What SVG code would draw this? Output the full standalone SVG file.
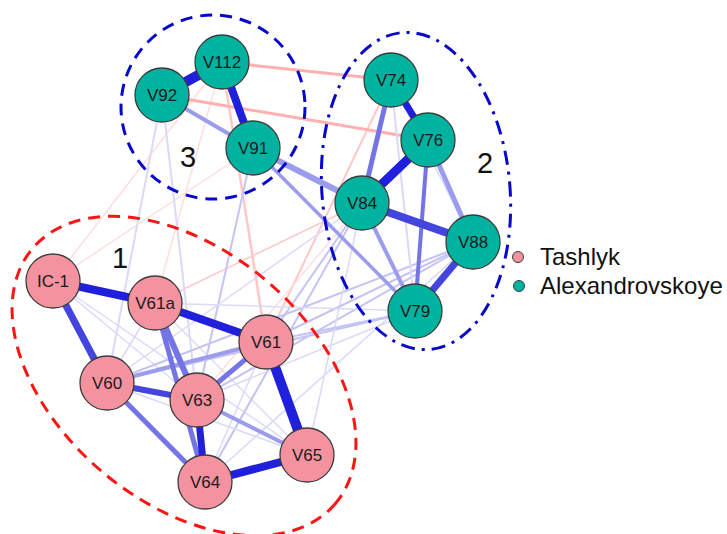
<svg xmlns="http://www.w3.org/2000/svg" width="727" height="534" viewBox="0 0 727 534">
  <style>
    .e { fill: none; stroke-linecap: butt; }
    .b1 { stroke: #2020dc; }
    .b2 { stroke: #4444de; }
    .b3 { stroke: #7474e6; }
    .b4 { stroke: #9c9cec; }
    .b5 { stroke: #c4c4f4; }
    .b6 { stroke: #dadaf8; }
    .r1 { stroke: #ffb0b0; }
    .r2 { stroke: #ffc8c8; }
    .r3 { stroke: #ffdede; }
    .node circle { stroke: #3c3c3c; stroke-width: 1.3; }
    .tash circle { fill: #f4939f; }
    .alex circle { fill: #00b3a0; }
    .node text { font-family: "Liberation Sans", Arial, sans-serif; font-size: 17px; fill: #1a1a1a; text-anchor: middle; }
    .grp { fill: none; stroke-width: 3; }
    .num { font-family: "Liberation Sans", Arial, sans-serif; font-size: 29px; fill: #111; text-anchor: middle; }
    .leg { font-family: "Liberation Sans", Arial, sans-serif; font-size: 24px; fill: #111; }
  </style>

  <!-- connectors: faint first, strong last -->
  <g id="connectors">
    <!-- faint red links -->
    <line class="e r3" stroke-width="1.5" x1="53" y1="281" x2="222" y2="62"/>
    <line class="e r3" stroke-width="1.5" x1="53" y1="281" x2="253" y2="148"/>
    <line class="e r3" stroke-width="1.5" x1="155" y1="303" x2="222" y2="62"/>
    <line class="e r2" stroke-width="1.5" x1="155" y1="303" x2="362" y2="203"/>
    <line class="e r2" stroke-width="2" x1="266" y1="342" x2="391" y2="80"/>
    <line class="e r2" stroke-width="1.5" x1="266" y1="342" x2="473" y2="242"/>
    <line class="e r3" stroke-width="1.5" x1="197" y1="400" x2="362" y2="203"/>
    <line class="e r3" stroke-width="1.5" x1="107" y1="383" x2="415" y2="311"/>
    <line class="e r2" stroke-width="2.5" x1="222" y1="62" x2="266" y2="342"/>
    <line class="e r1" stroke-width="3" x1="222" y1="62" x2="391" y2="80"/>
    <line class="e r1" stroke-width="3" x1="162" y1="95" x2="428" y2="140"/>

    <!-- faint blue links -->
    <line class="e b6" stroke-width="2" x1="162" y1="95" x2="107" y2="383"/>
    <line class="e b6" stroke-width="2" x1="162" y1="95" x2="197" y2="400"/>
    <line class="e b5" stroke-width="2" x1="253" y1="148" x2="197" y2="400"/>
    <line class="e b6" stroke-width="1.5" x1="53" y1="281" x2="197" y2="400"/>
    <line class="e b6" stroke-width="1.5" x1="53" y1="281" x2="307" y2="455"/>
    <line class="e b6" stroke-width="1.5" x1="155" y1="303" x2="307" y2="455"/>
    <line class="e b6" stroke-width="1.5" x1="155" y1="303" x2="107" y2="383"/>
    <line class="e b5" stroke-width="2" x1="107" y1="383" x2="473" y2="242"/>
    <line class="e b5" stroke-width="2" x1="107" y1="383" x2="415" y2="311"/>
    <line class="e b6" stroke-width="1.5" x1="107" y1="383" x2="362" y2="203"/>
    <line class="e b5" stroke-width="2" x1="197" y1="400" x2="473" y2="242"/>
    <line class="e b6" stroke-width="1.5" x1="197" y1="400" x2="415" y2="311"/>
    <line class="e b5" stroke-width="2" x1="205" y1="482" x2="362" y2="203"/>
    <line class="e b6" stroke-width="1.5" x1="205" y1="482" x2="266" y2="342"/>
    <line class="e b6" stroke-width="1.5" x1="205" y1="482" x2="473" y2="242"/>
    <line class="e b6" stroke-width="1.5" x1="307" y1="455" x2="362" y2="203"/>
    <line class="e b6" stroke-width="1.5" x1="307" y1="455" x2="107" y2="383"/>
    <line class="e b5" stroke-width="2" x1="266" y1="342" x2="362" y2="203"/>
    <line class="e b5" stroke-width="2" x1="266" y1="342" x2="473" y2="242"/>
    <line class="e b5" stroke-width="2" x1="266" y1="342" x2="415" y2="311"/>
    <line class="e b6" stroke-width="1.5" x1="155" y1="303" x2="415" y2="311"/>
    <line class="e b6" stroke-width="2" x1="391" y1="80" x2="415" y2="311"/>
    <line class="e b6" stroke-width="1.5" x1="391" y1="80" x2="473" y2="242"/>

    <!-- medium blue links -->
    <line class="e b4" stroke-width="4" x1="162" y1="95" x2="253" y2="148"/>
    <line class="e b4" stroke-width="6" x1="253" y1="148" x2="362" y2="203"/>
    <line class="e b4" stroke-width="3.5" x1="253" y1="148" x2="415" y2="311"/>
    <line class="e b3" stroke-width="5" x1="391" y1="80" x2="362" y2="203"/>
    <line class="e b4" stroke-width="5" x1="428" y1="140" x2="473" y2="242"/>
    <line class="e b3" stroke-width="4" x1="428" y1="140" x2="415" y2="311"/>
    <line class="e b4" stroke-width="4" x1="362" y1="203" x2="415" y2="311"/>
    <line class="e b4" stroke-width="4" x1="107" y1="383" x2="266" y2="342"/>
    <line class="e b4" stroke-width="4" x1="197" y1="400" x2="307" y2="455"/>
    <line class="e b3" stroke-width="5" x1="197" y1="400" x2="266" y2="342"/>
    <line class="e b3" stroke-width="5" x1="155" y1="303" x2="205" y2="482"/>
    <line class="e b3" stroke-width="6" x1="155" y1="303" x2="197" y2="400"/>
    <line class="e b3" stroke-width="5" x1="107" y1="383" x2="205" y2="482"/>

    <!-- strong blue links -->
    <line class="e b2" stroke-width="6" x1="107" y1="383" x2="197" y2="400"/>
    <line class="e b2" stroke-width="7" x1="53" y1="281" x2="107" y2="383"/>
    <line class="e b2" stroke-width="7" x1="473" y1="242" x2="415" y2="311"/>
    <line class="e b2" stroke-width="8" x1="362" y1="203" x2="473" y2="242"/>
    <line class="e b1" stroke-width="7" x1="197" y1="400" x2="205" y2="482"/>
    <line class="e b1" stroke-width="8" x1="205" y1="482" x2="307" y2="455"/>
    <line class="e b1" stroke-width="8" x1="53" y1="281" x2="155" y2="303"/>
    <line class="e b1" stroke-width="8" x1="155" y1="303" x2="266" y2="342"/>
    <line class="e b1" stroke-width="10" x1="266" y1="342" x2="307" y2="455"/>
    <line class="e b1" stroke-width="9" x1="428" y1="140" x2="362" y2="203"/>
    <line class="e b1" stroke-width="7" x1="391" y1="80" x2="428" y2="140"/>
    <line class="e b1" stroke-width="10" x1="162" y1="95" x2="222" y2="62"/>
    <line class="e b1" stroke-width="8" x1="222" y1="62" x2="253" y2="148"/>
  </g>

  <!-- group outlines -->
  <g id="groups">
    <ellipse id="group-1" class="grp" stroke="#ff1414" stroke-dasharray="12 8" cx="184" cy="376" rx="198" ry="126" transform="rotate(40 184 376)"/>
    <ellipse id="group-2" class="grp" stroke="#0808c8" stroke-dasharray="14 7 3 7" cx="416" cy="191" rx="94" ry="159" transform="rotate(-5 416 191)"/>
    <circle id="group-3" class="grp" stroke="#0808c8" stroke-dasharray="12 8" cx="213" cy="107" r="92"/>
    <text class="num" x="120" y="268">1</text>
    <text class="num" x="485" y="173">2</text>
    <text class="num" x="188" y="167">3</text>
  </g>

  <!-- Alexandrovskoye nodes -->
  <g id="V112" class="node alex"><circle cx="222" cy="62" r="27"/><text x="222" y="68">V112</text></g>
  <g id="V92" class="node alex"><circle cx="162" cy="95" r="27"/><text x="162" y="101">V92</text></g>
  <g id="V91" class="node alex"><circle cx="253" cy="148" r="27"/><text x="253" y="154">V91</text></g>
  <g id="V74" class="node alex"><circle cx="391" cy="80" r="27"/><text x="391" y="86">V74</text></g>
  <g id="V76" class="node alex"><circle cx="428" cy="140" r="27"/><text x="428" y="146">V76</text></g>
  <g id="V84" class="node alex"><circle cx="362" cy="203" r="27"/><text x="362" y="209">V84</text></g>
  <g id="V88" class="node alex"><circle cx="473" cy="242" r="27"/><text x="473" y="248">V88</text></g>
  <g id="V79" class="node alex"><circle cx="415" cy="311" r="27"/><text x="415" y="317">V79</text></g>

  <!-- Tashlyk nodes -->
  <g id="IC-1" class="node tash"><circle cx="53" cy="281" r="27"/><text x="53" y="287">IC-1</text></g>
  <g id="V61a" class="node tash"><circle cx="155" cy="303" r="27"/><text x="155" y="309">V61a</text></g>
  <g id="V60" class="node tash"><circle cx="107" cy="383" r="27"/><text x="107" y="389">V60</text></g>
  <g id="V63" class="node tash"><circle cx="197" cy="400" r="27"/><text x="197" y="406">V63</text></g>
  <g id="V61" class="node tash"><circle cx="266" cy="342" r="27"/><text x="266" y="348">V61</text></g>
  <g id="V64" class="node tash"><circle cx="205" cy="482" r="27"/><text x="205" y="488">V64</text></g>
  <g id="V65" class="node tash"><circle cx="307" cy="455" r="27"/><text x="307" y="461">V65</text></g>

  <!-- legend -->
  <g id="legend">
    <circle cx="518" cy="257" r="5.5" fill="#f4939f" stroke="#3c3c3c" stroke-width="1"/>
    <text class="leg" x="540" y="265">Tashlyk</text>
    <circle cx="519" cy="286" r="5.5" fill="#00b3a0" stroke="#3c3c3c" stroke-width="1"/>
    <text class="leg" x="540" y="294">Alexandrovskoye</text>
  </g>
</svg>
